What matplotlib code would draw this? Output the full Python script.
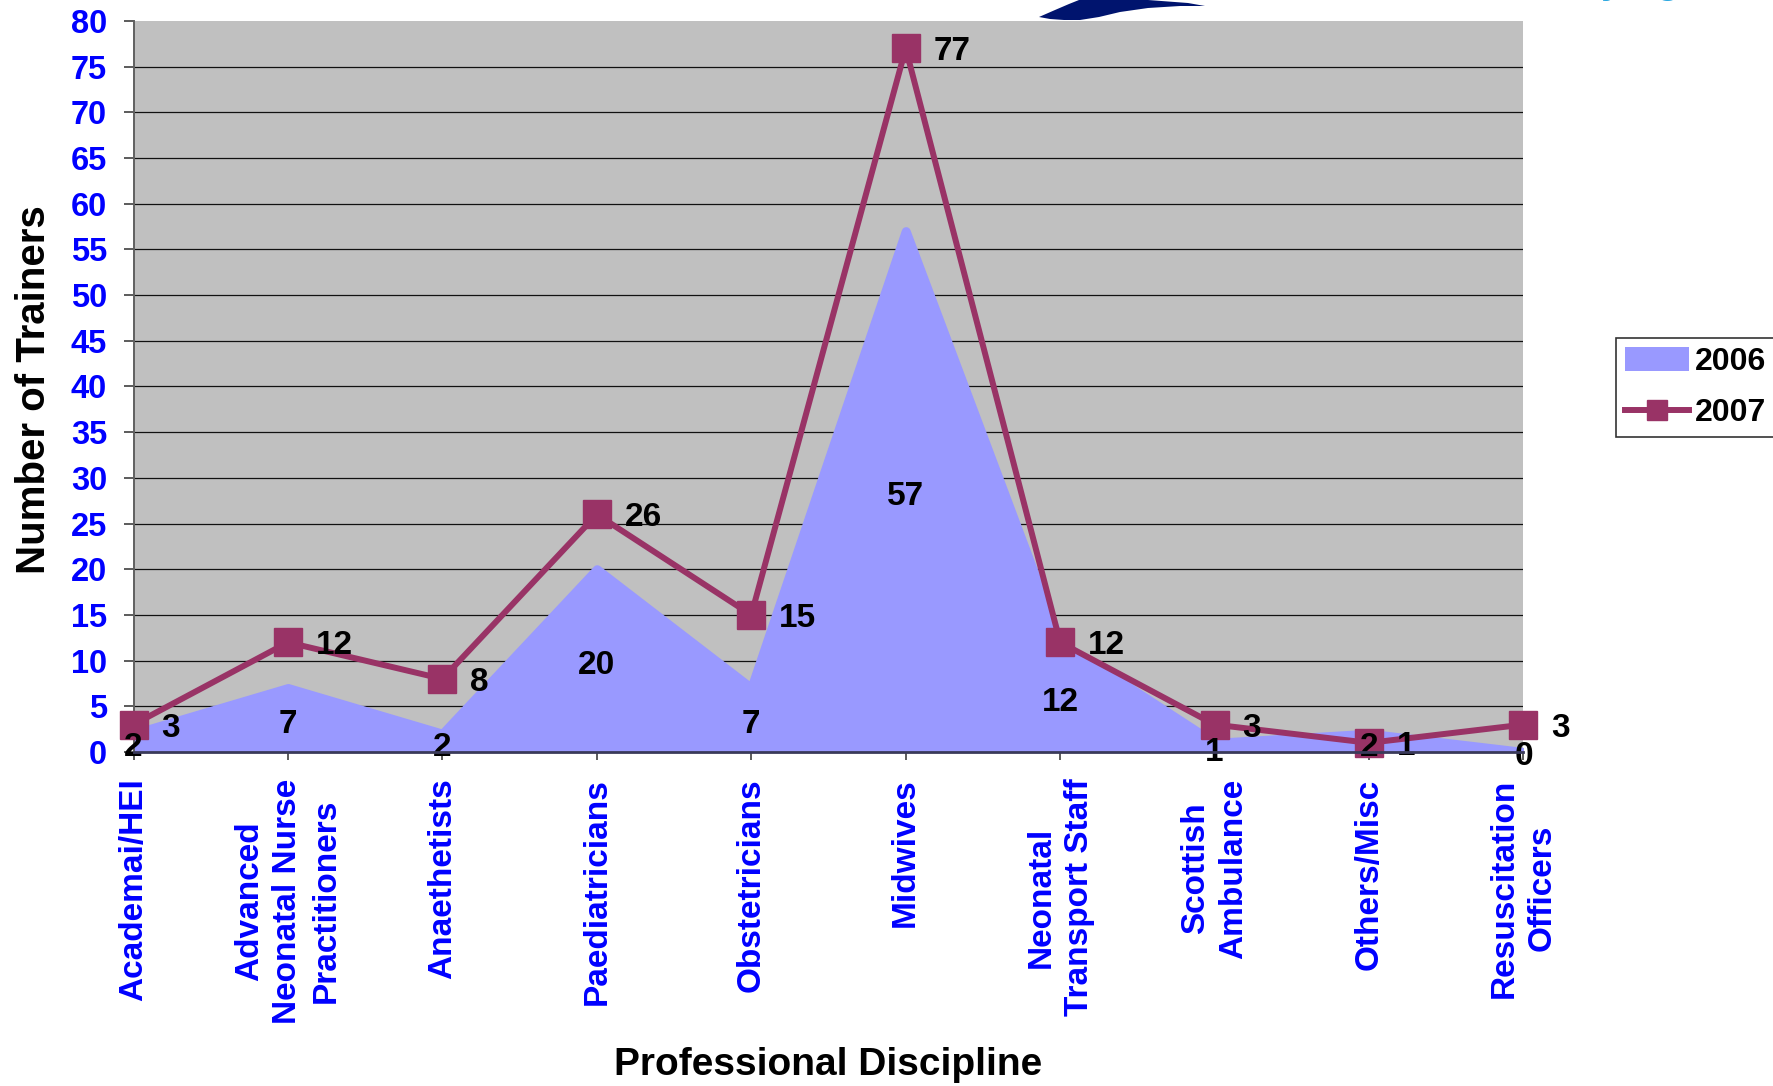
"""Trainers per professional discipline, 2006 area vs 2007 line."""

import matplotlib

matplotlib.use("Agg")
import matplotlib.pyplot as plt
from matplotlib.lines import Line2D
from matplotlib.patches import Patch, Polygon

CATEGORIES = [
    "Academai/HEI",
    "Advanced\nNeonatal Nurse\nPractitioners",
    "Anaethetists",
    "Paediatricians",
    "Obstetricians",
    "Midwives",
    "Neonatal\nTransport Staff",
    "Scottish\nAmbulance",
    "Others/Misc",
    "Resuscitation\nOfficers",
]
TRAINERS_2006 = [2, 7, 2, 20, 7, 57, 12, 1, 2, 0]
TRAINERS_2007 = [3, 12, 8, 26, 15, 77, 12, 3, 1, 3]
Y_TICKS = list(range(0, 81, 5))

AREA_COLOR = "#9999FF"
LINE_COLOR = "#993366"
BLUE = "#0000FF"
FONT = "Liberation Sans"

W, H = 1774, 1086
plt.rcParams["font.family"] = [FONT, "DejaVu Sans"]
plt.rcParams["font.weight"] = "bold"

fig = plt.figure(figsize=(W / 100, H / 100), dpi=100)
ax = fig.add_axes([133.5 / W, 1 - 752 / H, 1390 / W, 731 / H])
ax.set_facecolor("#C0C0C0")

x = list(range(len(CATEGORIES)))

ax.fill_between(
    x,
    TRAINERS_2006,
    color=AREA_COLOR,
    edgecolor=AREA_COLOR,
    linewidth=6.5,
    joinstyle="round",
    zorder=2,
)
ax.plot(
    x,
    TRAINERS_2007,
    color=LINE_COLOR,
    linewidth=4.3,
    marker="s",
    markersize=19.5,
    markerfacecolor=LINE_COLOR,
    markeredgecolor=LINE_COLOR,
    clip_on=False,
    zorder=4,
)

# 2006 labels sit in the middle of the area, 2007 labels right of the marker
for xi, v in zip(x, TRAINERS_2006):
    ax.annotate(str(v), (xi, v / 2), xytext=(0, -3.5), textcoords="offset points",
                ha="center", va="center", fontsize=24, fontweight="bold",
                color="black", zorder=5, annotation_clip=False)
for xi, v in zip(x, TRAINERS_2007):
    ax.annotate(str(v), (xi, v), xytext=(20, -2.5), textcoords="offset points",
                ha="left", va="center", fontsize=24, fontweight="bold",
                color="black", zorder=5, annotation_clip=False)

ax.set_xlim(0, len(CATEGORIES) - 1)
ax.set_ylim(0, 80)
ax.set_yticks(Y_TICKS)
ax.set_xticks(x)
ax.set_xticklabels(CATEGORIES, rotation=90, multialignment="center",
                   linespacing=1.3)

ax.tick_params(axis="y", length=7, width=1.2, color="#404040", pad=12,
               labelsize=23.5, labelcolor=BLUE)
ax.tick_params(axis="x", length=6, width=1.2, color="#404040", pad=13,
               labelsize=24, labelcolor=BLUE)
for lab in ax.get_xticklabels() + ax.get_yticklabels():
    lab.set_fontweight("bold")

ax.set_axisbelow(True)
ax.grid(axis="y", color="#111111", linewidth=0.9)
ax.yaxis.get_major_ticks()[-1].gridline.set_visible(False)
ax.yaxis.get_major_ticks()[0].gridline.set_visible(False)

for side in ("top", "right"):
    ax.spines[side].set_visible(False)
ax.spines["left"].set_color("#606060")
ax.spines["left"].set_linewidth(1.4)
ax.spines["bottom"].set_color("#3a3a5a")
ax.spines["bottom"].set_linewidth(2.0)
ax.spines["bottom"].set_zorder(6)

fig.text(34 / W, 1 - 390 / H, "Number of Trainers", rotation=90, ha="center",
         va="center", fontsize=29, fontweight="bold")
fig.text(828 / W, 1 - 1065 / H, "Professional Discipline", ha="center",
         va="center", fontsize=28, fontweight="bold")

handles = [
    Patch(facecolor=AREA_COLOR, edgecolor="none", label="2006"),
    Line2D([], [], color=LINE_COLOR, linewidth=4.3, marker="s", markersize=14,
           markerfacecolor=LINE_COLOR, markeredgecolor=LINE_COLOR, label="2007"),
]
leg = fig.legend(
    handles=handles,
    loc="upper left",
    bbox_to_anchor=(1616 / W, 1 - 338 / H),
    borderaxespad=0,
    fancybox=False,
    frameon=True,
    edgecolor="black",
    prop={"family": FONT, "weight": "bold", "size": 23},
    handlelength=2.0,
    handleheight=0.8,
    handletextpad=0.2,
    labelspacing=0.65,
    borderpad=0.28,
)
leg.get_frame().set_linewidth(1.2)

# partial logo at the top edge (mostly cropped in the source image)
logo = Polygon(
    [(1039, 17), (1055, 10), (1069, 4), (1079, 0), (1148, 0), (1188, 3),
     (1205, 6), (1180, 6), (1148, 8), (1120, 12), (1099, 17), (1080, 20),
     (1064, 20), (1050, 19)],
    closed=True, facecolor="#00146E", edgecolor="none",
    transform=fig.transFigure,
)
logo.set_xy([(px / W, 1 - py / H) for px, py in logo.get_xy()])
fig.patches.append(logo)
fig.text(1601 / W, 1 + 7 / H, "ying", color="#2AA7E0", fontsize=28,
         fontweight="bold", va="baseline", ha="left")

fig.savefig("out.png", dpi=100)
